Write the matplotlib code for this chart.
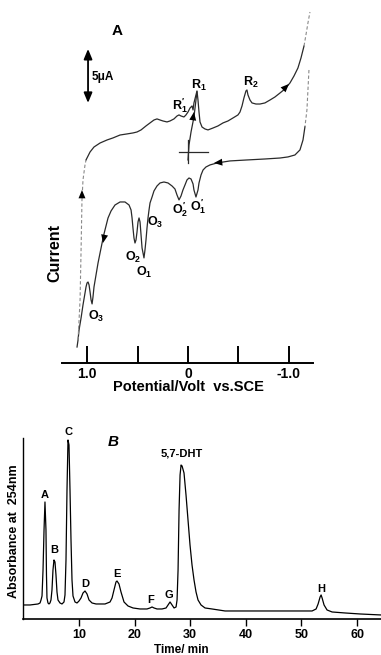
import matplotlib
matplotlib.use('Agg')
import matplotlib.pyplot as plt

plt.rcParams['font.family'] = ['Liberation Sans', 'DejaVu Sans']
plt.rcParams['font.weight'] = 'bold'
plt.rcParams['mathtext.fontset'] = 'custom'
plt.rcParams['mathtext.rm'] = 'Liberation Sans:bold'
plt.rcParams['mathtext.bf'] = 'Liberation Sans:bold'
plt.rcParams['mathtext.it'] = 'Liberation Sans:bold'

# ---- panel A: cyclic voltammogram (potential in V, current in uA) ----
# start of the scan, from the origin up to R1
start_v = [0.0, -0.010, -0.030, -0.059, -0.079, -0.089]
start_i = [-0.74, 0.65, 1.85, 3.24, 4.81, 5.56]

# cathodic sweep (upper trace), positive -> negative
up_v = [1.010, 0.970, 0.931, 0.871, 0.802, 0.743, 0.673, 0.604, 0.545, 0.505,
        0.465, 0.416, 0.376, 0.337, 0.307, 0.277, 0.248, 0.208, 0.178, 0.139,
        0.109, 0.089, 0.069, 0.040, 0.020, 0.0, -0.020, -0.040, -0.050, -0.059,
        -0.079, -0.089, -0.099, -0.109, -0.119, -0.139, -0.168, -0.198, -0.248,
        -0.297, -0.347, -0.396, -0.446, -0.495, -0.515, -0.535, -0.554, -0.574,
        -0.584, -0.594, -0.614, -0.634, -0.673, -0.713, -0.762, -0.812, -0.861,
        -0.911, -0.960, -1.010, -1.050, -1.089, -1.119, -1.149, -1.168, -1.188,
        -1.208]
up_i = [-0.74, 0.0, 0.46, 0.83, 1.11, 1.30, 1.57, 1.67, 1.76, 1.85,
        2.04, 2.41, 2.69, 2.96, 3.06, 2.96, 2.87, 2.78, 2.87, 3.06,
        3.33, 3.43, 3.33, 3.24, 3.43, 3.70, 4.07, 4.26, 3.89, 4.54,
        5.28, 5.65, 4.81, 3.70, 2.78, 2.31, 2.13, 2.04, 2.22,
        2.41, 2.69, 2.87, 3.15, 3.43, 3.70, 4.26, 5.00, 5.65,
        5.74, 5.28, 4.81, 4.54, 4.44, 4.44, 4.54, 4.81, 5.09,
        5.46, 5.83, 6.39, 7.04, 7.78, 8.70, 9.81, 10.83, 11.94,
        12.96]

# anodic sweep (lower trace), negative -> positive
down_v = [-1.198, -1.188, -1.178, -1.158, -1.139, -1.109, -1.059, -0.990, -0.911,
          -0.762, -0.584, -0.416, -0.287, -0.218, -0.178, -0.149, -0.129, -0.109,
          -0.099, -0.079, -0.059, -0.050, -0.030, -0.010, 0.010, 0.030, 0.050,
          0.069, 0.089, 0.109, 0.129, 0.158, 0.198, 0.238, 0.277, 0.307, 0.337,
          0.356, 0.376, 0.386, 0.396, 0.406, 0.416, 0.426, 0.436, 0.455, 0.465,
          0.475, 0.485, 0.495, 0.505, 0.515, 0.525, 0.535, 0.545, 0.554, 0.564,
          0.584, 0.624, 0.673, 0.723, 0.762, 0.792, 0.812, 0.832, 0.851, 0.871,
          0.891, 0.911, 0.931, 0.941, 0.950, 0.960, 0.970, 0.980, 0.990, 1.000,
          1.010, 1.020, 1.040, 1.059, 1.079, 1.089, 1.099]
down_i = [7.59, 5.74, 3.89, 2.31, 1.11, 0.19, -0.28, -0.46, -0.56,
          -0.65, -0.74, -0.83, -1.02, -1.20, -1.39, -1.67, -2.13, -2.87,
          -3.52, -4.17, -3.52, -2.96, -2.50, -2.41, -2.59, -3.06, -3.52,
          -4.07, -4.44, -3.98, -3.43, -3.15, -2.87, -2.78, -2.87, -3.15, -3.61,
          -4.17, -4.72, -5.37, -6.11, -7.04, -8.15, -9.07, -9.81, -8.89, -7.69,
          -6.48, -6.11, -6.48, -7.41, -8.15, -8.43, -7.96, -7.04, -6.11, -5.37,
          -4.91, -4.63, -4.63, -4.91, -5.46, -6.11, -6.85, -7.59, -8.43, -9.35,
          -10.28, -11.39, -12.50, -13.43, -14.07, -13.70, -12.96, -12.31, -12.04, -12.13,
          -12.50, -13.06, -14.17, -15.37, -16.48, -17.41, -18.06]

# return to the upper trace at the positive end (dotted in the original)
ret_v = [1.089, 1.069, 1.059, 1.050, 1.040, 1.020, 1.010]
ret_i = [-17.41, -13.70, -9.07, -4.44, -2.59, -1.20, -0.74]

# arrow heads on the trace: (tail V, tail I, tip V, tip I)
arrows_a = [(1.050, -4.44, 1.050, -3.52),
            (-0.040, 2.50, -0.059, 3.70),
            (-0.921, 5.56, -1.000, 6.30),
            (-0.356, -0.93, -0.257, -1.02),
            (0.812, -7.04, 0.842, -8.43)]

peak_names = [r'$R_1^{\prime}$', r'$R_1$', r'$R_2$', r'$O_3$', r'$O_2$', r'$O_1$',
              r'$O_3$', r'$O_2^{\prime}$', r'$O_1^{\prime}$']
peak_v = [0.079, -0.109, -0.624, 0.911, 0.545, 0.436, 0.327, 0.079, -0.099]
peak_i = [4.26, 6.20, 6.48, -15.19, -9.81, -11.20, -6.57, -5.37, -5.09]

pot_ticks = [1.0, 0.5, 0.0, -0.5, -1.0]
pot_labels = ['1.0', '', '0', '', '-1.0']

# ---- panel B: chromatogram ----
time_min = [0.0, 1.19, 2.63, 2.99, 3.17, 3.35, 3.53, 3.71, 3.88, 4.06, 4.15, 4.24,
            4.42, 4.60, 4.78, 4.96, 5.14, 5.32, 5.50, 5.68, 5.86, 6.04, 6.22,
            6.58, 6.94, 7.30, 7.48, 7.66, 7.84, 8.02, 8.20, 8.38, 8.56, 8.74,
            8.92, 9.28, 9.64, 10.0, 10.36, 10.72, 11.08, 11.44, 11.80, 12.34,
            13.06, 13.78, 14.68, 15.58, 15.94, 16.29, 16.65, 16.83, 17.19, 17.55,
            18.09, 18.81, 19.71, 20.97, 22.23, 22.77, 23.13, 23.49, 24.03, 24.93,
            25.65, 26.01, 26.37, 26.73, 27.09, 27.45, 27.63, 27.81, 27.99, 28.17,
            28.35, 28.53, 28.88, 29.24, 29.60, 29.96, 30.32, 30.68, 31.04, 31.40,
            31.94, 32.66, 33.92, 36.26, 40.76, 46.15, 49.75, 51.91, 52.63, 52.99,
            53.35, 53.53, 53.71, 54.06, 54.60, 55.50, 57.84, 60.54, 64.32]
absorb = [1.4, 1.4, 1.5, 1.6, 1.9, 2.3, 4.9, 8.9, 11.7, 8.9, 4.4, 2.1,
          1.6, 1.5, 1.6, 1.9, 2.9, 4.9, 5.9, 5.7, 4.4, 2.7, 1.9,
          1.6, 1.5, 1.7, 2.4, 5.9, 12.9, 17.9, 17.4, 12.9, 7.9, 3.9,
          2.3, 1.7, 1.6, 1.8, 2.1, 2.6, 2.8, 2.5, 1.9, 1.6,
          1.5, 1.5, 1.5, 1.7, 2.1, 2.9, 3.7, 3.8, 3.5, 2.7,
          1.7, 1.3, 1.1, 1.0, 1.0, 1.1, 1.2, 1.1, 1.0, 1.0,
          1.1, 1.4, 1.7, 1.4, 1.1, 1.2, 1.9, 4.9, 10.9, 14.4,
          15.4, 15.3, 14.6, 12.4, 9.9, 7.4, 5.4, 3.9, 2.7, 1.9,
          1.4, 1.1, 1.0, 0.8, 0.8, 0.8, 0.8, 0.8, 1.0, 1.5,
          2.2, 2.4, 2.1, 1.4, 0.9, 0.7, 0.6, 0.5, 0.4]

comp_names = ['A', 'B', 'C', 'D', 'E', 'F', 'G', '5,7-DHT', 'H']
comp_t = [3.88, 5.56, 8.08, 11.2, 16.8, 22.8, 26.2, 28.5, 53.5]
comp_a = [12.4, 6.9, 18.7, 3.5, 4.5, 1.9, 2.4, 16.5, 3.0]

time_ticks = [10, 20, 30, 40, 50, 60]

fig = plt.figure(figsize=(3.81, 6.55), dpi=100)

# panel A
ax = fig.add_axes([0.1627, 0.4458, 0.6588, 0.5466])
lc = '#2a2a2a'
faint = '#8a8a8a'
dash = (0, (3, 2))
ax.plot(start_v, start_i, color=lc, lw=0.9)
ax.plot(up_v[:-3], up_i[:-3], color=lc, lw=0.9)
ax.plot(up_v[-4:], up_i[-4:], color=faint, lw=0.8, ls=dash)
ax.plot(down_v[:4], down_i[:4], color=faint, lw=0.8, ls=dash)
ax.plot(down_v[3:], down_i[3:], color=lc, lw=0.9)
ax.plot(ret_v, ret_i, color=faint, lw=0.8, ls=dash)
# crosshair at the origin
ax.plot([0.089, -0.198], [0, 0], color=lc, lw=0.9)
ax.plot([0, 0], [1.11, -1.02], color=lc, lw=0.9)
for tv, ti, hv, hi in arrows_a:
    ax.annotate('', xy=(hv, hi), xytext=(tv, ti),
                arrowprops=dict(arrowstyle='-|>,head_length=0.6,head_width=0.25',
                                color='black', lw=0, shrinkA=0, shrinkB=0))
# 5 uA scale bar
ax.annotate('', xy=(0.99, 4.54), xytext=(0.99, 9.54),
            arrowprops=dict(arrowstyle='<|-|>,head_length=0.6,head_width=0.25',
                            color='black', lw=1.3, shrinkA=0, shrinkB=0))
ax.text(0.955, 6.94, '5μA', fontsize=8.5, fontweight='bold', va='center', ha='left')
ax.text(0.703, 11.2, 'A', fontsize=11, fontweight='bold', ha='center', va='center')
for name, v, i in zip(peak_names, peak_v, peak_i):
    ax.text(v, i, name, fontsize=9, ha='center', va='center')

ax.set_xlim(1.248, -1.238)
ax.set_ylim(-19.54, 13.61)
for s in ['left', 'top', 'right']:
    ax.spines[s].set_visible(False)
ax.spines['bottom'].set_linewidth(1.4)
ax.set_yticks([])
ax.set_xticks(pot_ticks)
ax.set_xticklabels(pot_labels, fontsize=10, fontweight='bold')
ax.tick_params(axis='x', direction='in', length=12, width=1.4, pad=3)
fig.text(55 / 381, 1 - 253 / 655, 'Current', rotation=90, fontsize=11.5,
         fontweight='bold', ha='center', va='center')
fig.text(188 / 381, 1 - 387 / 655, 'Potential/Volt  vs.SCE', fontsize=10.5,
         fontweight='bold', ha='center', va='center')

# panel B
bx = fig.add_axes([0.0614, 0.055, 0.9386, 0.2763])
bx.plot(time_min, absorb, color='black', lw=0.9)
for name, t, a in zip(comp_names, comp_t, comp_a):
    bx.text(t, a, name, fontsize=8, fontweight='bold', ha='center', va='center',
            clip_on=False)
bx.text(16.2, 17.7, 'B', fontsize=11, fontweight='bold', style='italic',
        ha='center', va='center')
bx.set_xlim(0, 64.3)
bx.set_ylim(0, 18.1)
bx.spines['top'].set_visible(False)
bx.spines['right'].set_visible(False)
bx.spines['left'].set_linewidth(1.0)
bx.spines['bottom'].set_linewidth(1.2)
bx.set_yticks([])
bx.set_xticks(time_ticks)
bx.set_xticklabels([str(t) for t in time_ticks], fontsize=9, fontweight='bold')
bx.tick_params(axis='x', direction='out', length=5, width=1.0, pad=2)
fig.text(14 / 381, 1 - 531 / 655, 'Absorbance at  254nm', rotation=90, fontsize=9,
         fontweight='bold', ha='center', va='center')
fig.text(181 / 381, 1 - 650 / 655, 'Time/ min', fontsize=8.5, fontweight='bold',
         ha='center', va='center')

fig.savefig('out.png', dpi=100)
